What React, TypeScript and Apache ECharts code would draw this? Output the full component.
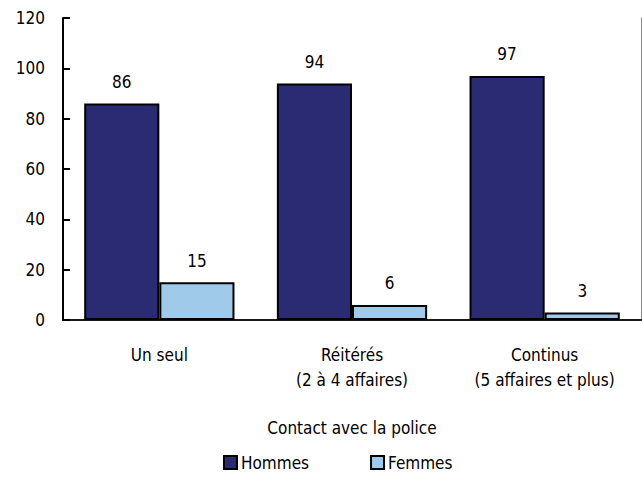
import React, { useEffect, useRef } from "react";
import * as echarts from "echarts";

const categories = ["Un seul", "Réitérés\n(2 à 4 affaires)", "Continus\n(5 affaires et plus)"];
const hommes = [86, 94, 97];
const femmes = [15, 6, 3];
const axisTitle = "Contact avec la police";
const FONT = "'DejaVu Sans Condensed', 'Liberation Sans Narrow', 'Liberation Sans', Arial, sans-serif";
const FS = 17;

export default function App() {
  const ref = useRef<HTMLDivElement>(null);
  useEffect(() => {
    if (!ref.current) return;
    const chart = echarts.init(ref.current, null, { renderer: "svg" });
    chart.setOption({
      animation: false,
      textStyle: { fontFamily: FONT, color: "#000" },
      grid: { left: 63, right: 1, top: 18, bottom: 160 },
      legend: {
        bottom: 4,
        left: 218,
        itemWidth: 13,
        itemHeight: 13,
        itemGap: 61,
        icon: "rect",
        textStyle: { fontFamily: FONT, fontSize: FS, color: "#000", padding: [0, 0, 0, -1] },
        data: ["Hommes", "Femmes"],
      },
      xAxis: [
        {
          type: "category",
          data: categories,
          position: "bottom",
          axisLine: { show: true, lineStyle: { color: "#000", width: 2 } },
          axisTick: { show: false },
          axisLabel: { fontFamily: FONT, fontSize: FS, color: "#000", margin: 22, lineHeight: 25, interval: 0 },
          name: axisTitle,
          nameLocation: "middle",
          nameGap: 99,
          nameTextStyle: { fontFamily: FONT, fontSize: FS, color: "#000" },
        },
        {
          type: "category",
          data: categories,
          position: "top",
          axisLine: { show: true, lineStyle: { color: "#222", width: 1.5 } },
          axisTick: { show: false },
          axisLabel: { show: false },
        },
      ],
      yAxis: [
        {
          type: "value",
          min: 0,
          max: 120,
          interval: 20,
          axisLine: { show: true, lineStyle: { color: "#000", width: 2 } },
          axisTick: { show: true, inside: true, length: 7, lineStyle: { color: "#000", width: 2 } },
          axisLabel: { fontFamily: FONT, fontSize: FS, color: "#000", margin: 18 },
          splitLine: { show: false },
        },
        {
          type: "value",
          min: 0,
          max: 120,
          interval: 20,
          position: "right",
          axisLine: { show: true, lineStyle: { color: "#888", width: 1 } },
          axisTick: { show: false },
          axisLabel: { show: false },
          splitLine: { show: false },
        },
      ],
      series: [
        {
          name: "Hommes",
          type: "bar",
          data: hommes,
          barWidth: "39%",
          barGap: "0%",
          itemStyle: { color: "#2a2b72", borderColor: "#000", borderWidth: 2 },
          label: { show: true, position: "top", distance: 13, fontFamily: FONT, fontSize: FS, color: "#000" },
        },
        {
          name: "Femmes",
          type: "bar",
          data: femmes,
          barWidth: "39%",
          barGap: "0%",
          itemStyle: { color: "#9fcaea", borderColor: "#000", borderWidth: 2 },
          label: { show: true, position: "top", distance: 13, fontFamily: FONT, fontSize: FS, color: "#000" },
        },
      ],
    });
    return () => chart.dispose();
  }, []);
  return <div ref={ref} style={{ width: 642, height: 480, position: "absolute", left: 0, top: 0 }} />;
}
